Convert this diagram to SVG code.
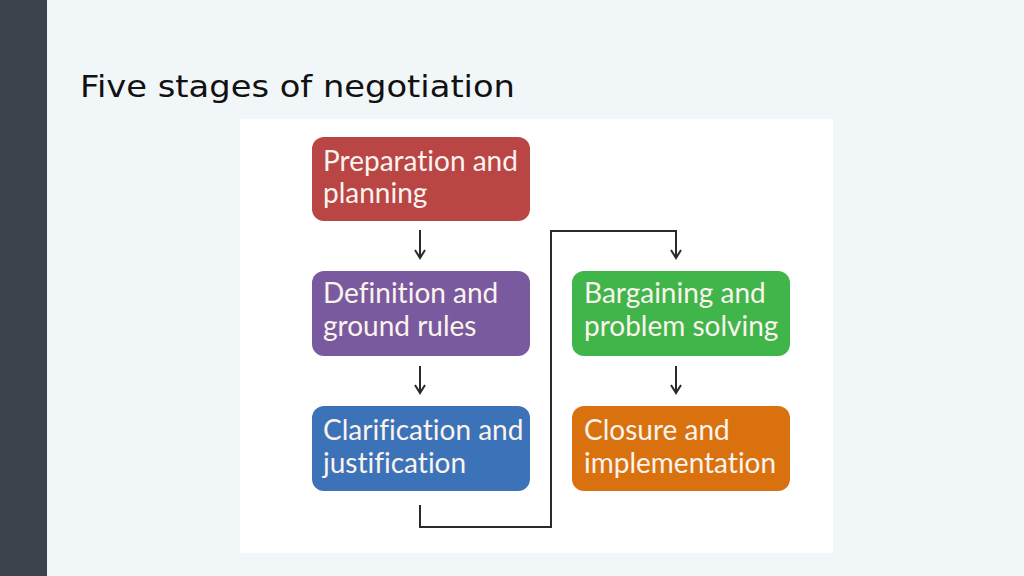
<svg xmlns="http://www.w3.org/2000/svg" width="1024" height="576" viewBox="0 0 1024 576">
<defs>
<style>
.box text{font-family:"Lato","Open Sans",sans-serif;font-size:28px;fill:#fbf3ee;font-variant-ligatures:none}
.conn{fill:none;stroke:#2a2a2a;stroke-width:2}
</style>
<marker id="ah" markerWidth="12" markerHeight="12" refX="10" refY="6" orient="auto" markerUnits="userSpaceOnUse" viewBox="0 0 12 12">
<path d="M2,1 L10,6 L2,11" fill="none" stroke="#2a2a2a" stroke-width="2"/>
</marker>
</defs>
<rect width="1024" height="576" fill="#f1f6f9"/>
<rect width="47" height="576" fill="#3d434a"/>
<text x="80" y="97" font-family="DejaVu Sans, sans-serif" font-size="31" fill="#111" textLength="435" lengthAdjust="spacingAndGlyphs">Five stages of negotiation</text>
<rect x="240" y="119" width="593" height="434" fill="#ffffff"/>
<g id="n1" class="box"><rect x="312" y="137" width="218" height="84" rx="12" fill="#b94545"/><text x="323" y="171">Preparation and</text><text x="323" y="203">planning</text></g>
<g id="n2" class="box"><rect x="312" y="271" width="218" height="85" rx="12" fill="#7a5a9e"/><text x="323" y="303">Definition and</text><text x="323" y="336">ground rules</text></g>
<g id="n3" class="box"><rect x="312" y="406" width="218" height="85" rx="12" fill="#3c72b8"/><text x="323" y="440">Clarification and</text><text x="323" y="473">justification</text></g>
<g id="n4" class="box"><rect x="572" y="271" width="218" height="85" rx="12" fill="#3fb54a"/><text x="584" y="303">Bargaining and</text><text x="584" y="336">problem solving</text></g>
<g id="n5" class="box"><rect x="572" y="406" width="218" height="85" rx="12" fill="#d9720e"/><text x="584" y="440">Closure and</text><text x="584" y="473">implementation</text></g>
<g id="connectors">
<path class="conn" d="M420,230 V258" marker-end="url(#ah)"/>
<path class="conn" d="M420,366 V393" marker-end="url(#ah)"/>
<path class="conn" d="M676,366 V393" marker-end="url(#ah)"/>
<path class="conn" d="M420,505 V527 H551 V231 H676 V258" marker-end="url(#ah)"/>
</g>
</svg>
